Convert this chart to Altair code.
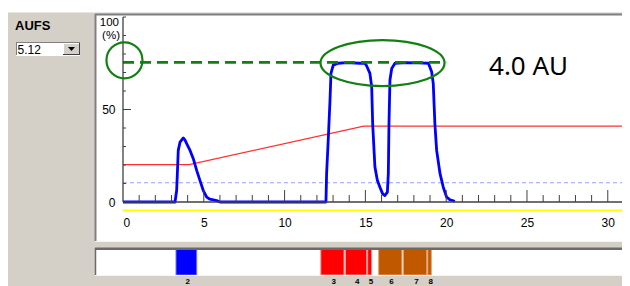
import altair as alt
import pandas as pd

# ---------------- data ----------------
time_min = [0.0, 3.22, 3.32, 3.38, 3.42, 3.53, 3.73, 3.84, 3.94, 4.15,
            4.35, 4.56, 4.76, 4.97, 5.18, 5.38, 5.8, 6.0,
            12.56, 12.6, 12.7, 12.81, 12.87, 13.01, 13.32, 13.84, 14.67, 14.98,
            15.08, 15.28, 15.39, 15.45, 15.59, 15.74, 15.9, 16.07, 16.21,
            16.36, 16.42, 16.46, 16.52, 16.63, 16.83, 17.5, 18.3, 18.9,
            19.1, 19.2, 19.3, 19.41, 19.62, 19.82, 20.03, 20.24, 20.54]
uv_pct = [0.0, 0.0, 6.2, 18.9, 27.9, 32.4, 34.6, 33.4, 31.6, 27.9,
          23.4, 17.1, 11.7, 6.2, 2.6, 1.5, 0.8, 0.0,
          0.0, 15.3, 33.4, 55.0, 69.5, 74.0, 75.0, 75.3, 75.0, 75.0,
          73.5, 69.5, 62.3, 42.4, 18.9, 11.7, 8.0, 4.4, 3.5,
          5.3, 15.3, 42.4, 65.9, 72.2, 75.0, 75.3, 75.2, 75.0,
          70.4, 64.0, 42.4, 27.9, 15.3, 8.0, 2.6, 1.2, 0.4]

grad_time = [0.0, 4.1, 14.9, 31.0]
grad_pct = [20.2, 20.2, 41.0, 41.0]

level_names = ["yellow", "threshold", "aufs"]
level_pct = [-4.6, 10.4, 75.5]
level_start = [0.0, 0.0, 0.0]
level_end = [31.0, 31.0, 20.0]

frac_id = ["2", "3", "4", "5", "6", "7", "8"]
frac_start = [3.28, 12.24, 13.76, 15.14, 15.82, 17.35, 18.86]
frac_end = [4.56, 13.68, 15.08, 15.39, 17.26, 18.80, 19.08]
frac_group = ["blue", "red", "red", "red", "brown", "brown", "brown"]

x_labels = [0, 5, 10, 15, 20, 25, 30]
x_view = [0, 30.88]
x_axis_span = [0, 31]
y_range = [0, 100]
x_minor = [t for t in range(1, 32) if t % 5 != 0]
x_major = [5, 10, 15, 20, 25, 30]
y_minor = [10, 20, 30, 40, 60, 70, 80, 90, 100]
y_major = [50]

annot_text = "4.0 AU"

# ---------------- layout helpers (page pixels -> plot pixels) ----------------
PX, PY = 123, 17
W, H = 499, 185
FONT = "Liberation Sans"
one = pd.DataFrame({"k": [0]})


def box(x1, y1, x2, y2, **kw):
    return alt.Chart(one).mark_rect(**kw).encode(
        x=alt.value(x1 - PX), x2=alt.value(x2 - PX),
        y=alt.value(y1 - PY), y2=alt.value(y2 - PY))


def hline(x1, x2, y, color, w=1):
    return alt.Chart(one).mark_rule(color=color, strokeWidth=w).encode(
        x=alt.value(x1 - PX), x2=alt.value(x2 - PX), y=alt.value(y - PY))


def vline(x, y1, y2, color, w=1):
    return alt.Chart(one).mark_rule(color=color, strokeWidth=w).encode(
        x=alt.value(x - PX), y=alt.value(y1 - PY), y2=alt.value(y2 - PY))


def label(x, y, text, **kw):
    return alt.Chart(one).mark_text(text=text, font=FONT, **kw).encode(
        x=alt.value(x - PX), y=alt.value(y - PY))


xs = alt.Scale(domain=x_view, nice=False, zero=False)
ys = alt.Scale(domain=y_range, nice=False, zero=False)

# ---------------- decoration ----------------
decor = [
    box(8, 8, 630, 12, color="white"),
    hline(8, 630, 12.5, "#e8e6e2"),
    box(95, 15, 629, 241, color="white"),
    hline(95, 629, 14.5, "#808080", 2),
    vline(95.5, 14, 241, "#808080", 2),
    hline(95, 629, 241.5, "#f4f4f4"),
    box(95, 248, 627, 275, color="white"),
    label(15, 25.5, "AUFS", fontSize=13, fontWeight="bold", align="left",
          baseline="middle", color="#000000"),
    box(16, 42, 63, 56, color="white"),
    hline(16, 80, 42.5, "#808080"),
    vline(16.5, 42, 56, "#808080"),
    hline(16, 80, 55.5, "#ffffff"),
    label(17.5, 49.5, "5.12", fontSize=12, align="left", baseline="middle",
          color="#000000"),
    box(63, 43, 80, 55, color="#d4d0c8"),
    hline(63, 80, 43.5, "#ffffff"),
    vline(63.5, 43, 55, "#ffffff"),
    hline(63, 80, 54.5, "#404040"),
    vline(79.5, 43, 55, "#404040"),
    alt.Chart(one).mark_point(shape="M -1 -0.57 L 1 -0.57 L 0 0.57 Z", filled=True,
                              color="black", size=49, opacity=1).encode(
        x=alt.value(71.5 - PX), y=alt.value(49 - PY)),
]

# ---------------- data layers ----------------
levels = pd.DataFrame({"name": level_names, "pct": level_pct,
                       "start": level_start, "end": level_end})
lv = alt.Chart(levels)
yellow = lv.transform_filter("datum.name == 'yellow'").mark_rule(
    color="#ffff00", strokeWidth=2).encode(
    x=alt.X("start:Q", scale=xs), x2="end:Q", y=alt.Y("pct:Q", scale=ys))
thresh = lv.transform_filter("datum.name == 'threshold'").mark_rule(
    color="#9a9aff", strokeWidth=1, strokeDash=[4, 3]).encode(
    x=alt.X("start:Q", scale=xs), x2="end:Q", y=alt.Y("pct:Q", scale=ys))
aufs = lv.transform_filter("datum.name == 'aufs'").mark_rule(
    color="#108010", strokeWidth=2.6, strokeDash=[11, 6]).encode(
    x=alt.X("start:Q", scale=xs), x2="end:Q", y=alt.Y("pct:Q", scale=ys))

grad = alt.Chart(pd.DataFrame({"t": grad_time, "v": grad_pct})).mark_line(
    color="#ff3030", strokeWidth=1.3).encode(
    x=alt.X("t:Q", scale=xs), y=alt.Y("v:Q", scale=ys))

uv = alt.Chart(pd.DataFrame({"t": time_min, "v": uv_pct})).mark_line(
    color="#0000ff", strokeWidth=2.8, strokeJoin="round").encode(
    x=alt.X("t:Q", scale=xs,
            axis=alt.Axis(values=x_labels, ticks=False, tickSize=0, domain=False,
                          grid=False, labelPadding=15, labelFontSize=12,
                          labelFont=FONT, labelColor="#000000", title=None,
                          zindex=2)),
    y=alt.Y("v:Q", scale=ys,
            axis=alt.Axis(values=[0, 50], ticks=False, tickSize=0, domain=False,
                          grid=False, labelPadding=8, labelFontSize=12,
                          labelFont=FONT, labelColor="#000000", title=None,
                          zindex=2)))

axis_col = "#404040"
x_domain = alt.Chart(pd.DataFrame({"a": [x_axis_span[0]], "b": [x_axis_span[1]], "v": [0]})).mark_rule(
    color=axis_col, strokeWidth=1.5).encode(
    x=alt.X("a:Q", scale=xs), x2="b:Q", y=alt.Y("v:Q", scale=ys))
y_domain = alt.Chart(pd.DataFrame({"t": [0], "a": [y_range[0]], "b": [y_range[1]]})).mark_rule(
    color=axis_col, strokeWidth=1.3).encode(
    x=alt.X("t:Q", scale=xs), y=alt.Y("a:Q", scale=ys), y2="b:Q")
xt_minor = alt.Chart(pd.DataFrame({"t": x_minor})).mark_rule(
    color=axis_col, strokeWidth=1).encode(
    x=alt.X("t:Q", scale=xs), y=alt.value(H), y2=alt.value(H - 7))
xt_major = alt.Chart(pd.DataFrame({"t": x_major})).mark_rule(
    color=axis_col, strokeWidth=1).encode(
    x=alt.X("t:Q", scale=xs), y=alt.value(H), y2=alt.value(H - 12))
yt_minor = alt.Chart(pd.DataFrame({"v": y_minor})).mark_rule(
    color=axis_col, strokeWidth=1).encode(
    y=alt.Y("v:Q", scale=ys), x=alt.value(0), x2=alt.value(3))
yt_major = alt.Chart(pd.DataFrame({"v": y_major})).mark_rule(
    color=axis_col, strokeWidth=1).encode(
    y=alt.Y("v:Q", scale=ys), x=alt.value(0), x2=alt.value(8))
ytop = alt.Chart(pd.DataFrame({"v": [100, 100], "s": ["100", "(%)"], "d": [0, 1]}))
y100 = ytop.transform_filter("datum.d == 0").mark_text(
    font=FONT, fontSize=11.5, align="right", baseline="middle", dy=6,
    color="#000000").encode(x=alt.value(-4), y=alt.Y("v:Q", scale=ys), text="s:N")
ypct = ytop.transform_filter("datum.d == 1").mark_text(
    font=FONT, fontSize=11.5, align="right", baseline="middle", dy=18.5,
    color="#000000").encode(x=alt.value(-3), y=alt.Y("v:Q", scale=ys), text="s:N")

circ = alt.Chart(pd.DataFrame({"t": [0.09], "v": [76.6]})).mark_point(
    shape="circle", size=1296, filled=False, color="#108010", strokeWidth=2.2,
    opacity=1).encode(x=alt.X("t:Q", scale=xs), y=alt.Y("v:Q", scale=ys))
ell = alt.Chart(pd.DataFrame({"t": [16.06], "v": [75.1]})).mark_point(
    shape="M -1 0 A 1 0.371 0 1 0 1 0 A 1 0.371 0 1 0 -1 0 Z", size=15376,
    filled=False, color="#108010", strokeWidth=2.2, opacity=1).encode(
    x=alt.X("t:Q", scale=xs), y=alt.Y("v:Q", scale=ys))
au = alt.Chart(pd.DataFrame({"t": [22.65], "v": [72.9], "s": [annot_text]})).mark_text(
    font="Noto Sans", fontSize=26, align="left", baseline="middle",
    color="#000000").encode(x=alt.X("t:Q", scale=xs), y=alt.Y("v:Q", scale=ys),
                            text="s:N")

fr = pd.DataFrame({"id": frac_id, "s": frac_start, "e": frac_end, "g": frac_group})
frac = alt.Chart(fr).mark_rect(strokeWidth=1).encode(
    x=alt.X("s:Q", scale=xs), x2="e:Q",
    y=alt.value(249.5 - PY), y2=alt.value(275 - PY),
    color=alt.Color("g:N", scale=alt.Scale(domain=["blue", "red", "brown"],
                                           range=["#0000ff", "#ff0000", "#c05800"]),
                    legend=None),
    stroke=alt.Stroke("g:N", scale=alt.Scale(domain=["blue", "red", "brown"],
                                             range=["#7070ff", "#ff9a9a", "#e8a070"]),
                      legend=None))
frac_lab = alt.Chart(fr).transform_calculate(m="(datum.s + datum.e) / 2 + 0.08").mark_text(
    font=FONT, fontSize=8, fontWeight="bold", color="#000000", baseline="middle").encode(
    x=alt.X("m:Q", scale=xs), y=alt.value(281.5 - PY), text="id:N")

frac_border = [
    hline(95, 627, 248.8, "#6a6a6a", 2.5),
    vline(95.5, 248, 275, "#6a6a6a", 1.5),
    hline(95, 627, 275.5, "#f4f4f4"),
]

chart = alt.layer(
    *decor, yellow, thresh, grad, uv, aufs,
    x_domain, y_domain, xt_minor, xt_major, yt_minor, yt_major, y100, ypct,
    frac, *frac_border, frac_lab, circ, ell, au,
).properties(
    width=W, height=H,
    autosize=alt.AutoSizeParams(type="none"),
    padding={"left": 115, "top": 9, "right": 0, "bottom": 84},
    background="#d4d0c8",
).configure_view(stroke=None)

chart.save("out.html", embed_options={"renderer": "svg", "actions": False})
